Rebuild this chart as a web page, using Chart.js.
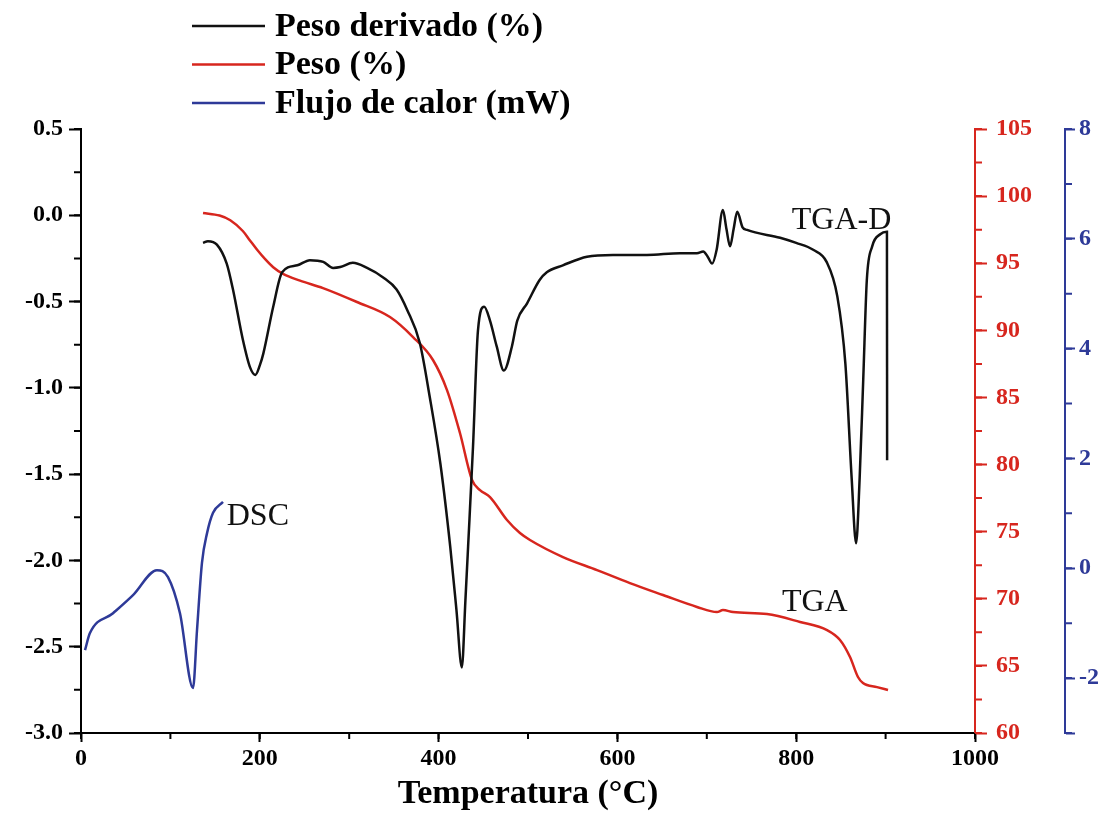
<!DOCTYPE html>
<html>
<head>
<meta charset="utf-8">
<script src="https://cdn.jsdelivr.net/npm/chart.js@4.4.1/dist/chart.umd.min.js"></script>
<style>
  html, body { margin: 0; padding: 0; background: #fff; }
</style>
</head>
<body>
<canvas id="tgaChart" width="1109" height="837"></canvas>
<script>
// curva derivada (eje izquierdo)
const derivTemp = [136.5, 142, 152, 163, 170, 181, 189, 195, 200, 204, 215, 225, 242, 256, 271, 282, 290, 304, 320, 338,
  353, 365, 379, 390, 402, 413, 420, 426, 430, 433, 438.5, 444, 451, 457.5, 465, 473, 482, 488, 499, 513,
  521, 539, 566, 595, 633, 670, 689, 696, 701, 706, 711, 718, 722, 726, 730, 734, 740, 745, 782, 800,
  819, 834, 846, 855, 862, 867, 871, 875, 879, 885, 894, 901.5, 901.7];
const derivValue = [-0.16, -0.15, -0.17, -0.28, -0.43, -0.72, -0.88, -0.925, -0.87, -0.80, -0.53, -0.33, -0.29, -0.26, -0.27, -0.305, -0.30, -0.275, -0.305, -0.36,
  -0.43, -0.55, -0.74, -1.05, -1.44, -1.92, -2.29, -2.62, -2.23, -1.92, -1.34, -0.67, -0.53, -0.61, -0.76, -0.90, -0.76, -0.61, -0.51, -0.375,
  -0.33, -0.29, -0.24, -0.23, -0.23, -0.22, -0.22, -0.21, -0.24, -0.28, -0.20, 0.03, -0.08, -0.18, -0.08, 0.02, -0.07, -0.085, -0.13, -0.16,
  -0.20, -0.27, -0.47, -0.86, -1.52, -1.90, -1.52, -0.95, -0.375, -0.18, -0.11, -0.095, -1.42];

// TGA (eje rojo)
const weightTemp = [136.5, 155, 167, 181, 189, 197, 206, 215, 226, 245, 270.7, 308.7, 345.6, 371.4, 393.7, 409.4, 423.9, 437.4, 446.3, 457.5,
  476.5, 491, 502.2, 539.1, 577.2, 614, 651, 689, 711.4, 718.1, 729.3, 767.3, 804.3, 834.5, 849, 860.2, 869.1, 874.7, 890.4, 902.7];
const weightValue = [98.74, 98.55, 98.2, 97.4, 96.7, 96.0, 95.3, 94.7, 94.2, 93.7, 93.15, 92.11, 90.99, 89.5, 87.79, 85.55, 82.35, 78.85, 78.10, 77.58,
  75.87, 74.90, 74.38, 73.11, 72.14, 71.17, 70.28, 69.39, 69.01, 69.16, 69.01, 68.86, 68.27, 67.67, 66.93, 65.66, 64.17, 63.72, 63.42, 63.20];

// DSC (eje azul)
const dscTemp = [4.5, 10, 35.8, 58.2, 85, 97.3, 110.7, 125.3, 129.8, 135.3, 141, 147.7, 158.8];
const dscValue = [-1.49, -1.18, -0.82, -0.49, -0.035, -0.16, -0.82, -2.18, -1.12, 0.10, 0.64, 1.01, 1.21];

const seriesNames = ["Peso derivado (%)", "Peso (%)", "Flujo de calor (mW)"];
const curveLabels = [
  { text: "TGA-D", x: 795, y: -0.03, axis: "y" },
  { text: "TGA", x: 784, y: 69.7, axis: "y1" },
  { text: "DSC", x: 163, y: 0.95, axis: "y2" }
];

const FONT = "'Liberation Serif', 'Times New Roman', serif";
const BLACK = "#111111";
const RED = "#d7261e";
const BLUE = "#2e3a98";

function toPoints(xs, ys) {
  return xs.map((x, i) => ({ x: x, y: ys[i] }));
}

const minorSteps = { x: 100, y: 0.25, y1: 2.5, y2: 1 };

const minorTickPlugin = {
  id: "minorTicks",
  afterDraw(chart) {
    const ctx = chart.ctx;
    for (const id of Object.keys(minorSteps)) {
      const s = chart.scales[id];
      const step = minorSteps[id];
      ctx.save();
      ctx.strokeStyle = s.options.border.color;
      ctx.lineWidth = 2;
      ctx.beginPath();
      for (let i = 0; s.min + i * step <= s.max + 1e-9; i++) {
        const p = s.getPixelForValue(s.min + i * step);
        if (id === "x") { ctx.moveTo(p, s.top); ctx.lineTo(p, s.top + 6); }
        else if (s.position === "left") { ctx.moveTo(s.right, p); ctx.lineTo(s.right - 7, p); }
        else { ctx.moveTo(s.left, p); ctx.lineTo(s.left + 7, p); }
      }
      ctx.stroke();
      ctx.restore();
    }
  }
};

const legendPlugin = {
  id: "stackedLegend",
  afterDraw(chart) {
    const ctx = chart.ctx;
    ctx.save();
    ctx.font = "bold 34px " + FONT;
    ctx.textBaseline = "middle";
    chart.data.datasets.forEach((ds, i) => {
      const y = 26 + i * 38.5;
      ctx.strokeStyle = ds.borderColor;
      ctx.lineWidth = 2.5;
      ctx.beginPath();
      ctx.moveTo(192, y);
      ctx.lineTo(265, y);
      ctx.stroke();
      ctx.fillStyle = "#000";
      ctx.fillText(ds.label, 275, y + 1);
    });
    ctx.restore();
  }
};

const curveLabelPlugin = {
  id: "curveLabels",
  afterDatasetsDraw(chart) {
    const ctx = chart.ctx;
    ctx.save();
    ctx.font = "32px " + FONT;
    ctx.textBaseline = "middle";
    ctx.fillStyle = "#111";
    for (const l of curveLabels) {
      const px = chart.scales.x.getPixelForValue(l.x);
      const py = chart.scales[l.axis].getPixelForValue(l.y);
      ctx.fillText(l.text, px, py);
    }
    ctx.restore();
  }
};

function axisStyle(color, position) {
  return {
    type: "linear",
    position: position,
    border: { display: true, color: color, width: 2 },
    grid: { drawOnChartArea: false, drawTicks: true, tickLength: 12, tickWidth: 2, tickColor: color },
    ticks: { color: color, padding: 5, font: { family: FONT, size: 24, weight: "bold" } }
  };
}

const yLeft = axisStyle("#000", "left");
Object.assign(yLeft, { min: -3, max: 0.5, afterFit: s => { s.width = 81; } });
yLeft.ticks.stepSize = 0.5;
yLeft.ticks.padding = 6;
yLeft.ticks.callback = v => v.toFixed(1);

const yRed = axisStyle(RED, "right");
Object.assign(yRed, { min: 60, max: 105, weight: 0, afterFit: s => { s.width = 90; } });
yRed.ticks.stepSize = 5;
yRed.ticks.padding = 9;

const yBlue = axisStyle(BLUE, "right");
Object.assign(yBlue, { min: -3, max: 8, weight: 1, afterFit: s => { s.width = 44; } });
yBlue.grid.tickLength = 10;
yBlue.ticks.stepSize = 2;
yBlue.ticks.padding = 4;
yBlue.ticks.callback = v => (v === -3 ? "" : String(v));

const xAxis = axisStyle("#000", "bottom");
Object.assign(xAxis, {
  min: 0, max: 1000,
  afterFit: s => { s.height = 104; },
  title: { display: true, text: "Temperatura (°C)", color: "#000", padding: { top: 4, bottom: 22 },
           font: { family: FONT, size: 34, weight: "bold" } }
});
xAxis.grid.tickLength = 9;
xAxis.ticks.padding = 2;
xAxis.ticks.stepSize = 200;
xAxis.ticks.maxRotation = 0;
xAxis.ticks.callback = v => String(v);

new Chart(document.getElementById("tgaChart"), {
  type: "line",
  data: {
    datasets: [
      { label: seriesNames[0], data: toPoints(derivTemp, derivValue), borderColor: BLACK, yAxisID: "y" },
      { label: seriesNames[1], data: toPoints(weightTemp, weightValue), borderColor: RED, yAxisID: "y1" },
      { label: seriesNames[2], data: toPoints(dscTemp, dscValue), borderColor: BLUE, yAxisID: "y2" }
    ]
  },
  options: {
    responsive: false,
    animation: false,
    layout: { padding: { top: 129, left: 0, right: 0, bottom: 0 } },
    elements: {
      line: { borderWidth: 2.5, cubicInterpolationMode: "monotone", fill: false },
      point: { radius: 0 }
    },
    scales: { x: xAxis, y: yLeft, y1: yRed, y2: yBlue },
    plugins: { legend: { display: false }, tooltip: { enabled: false } }
  },
  plugins: [minorTickPlugin, legendPlugin, curveLabelPlugin]
});
</script>
</body>
</html>
